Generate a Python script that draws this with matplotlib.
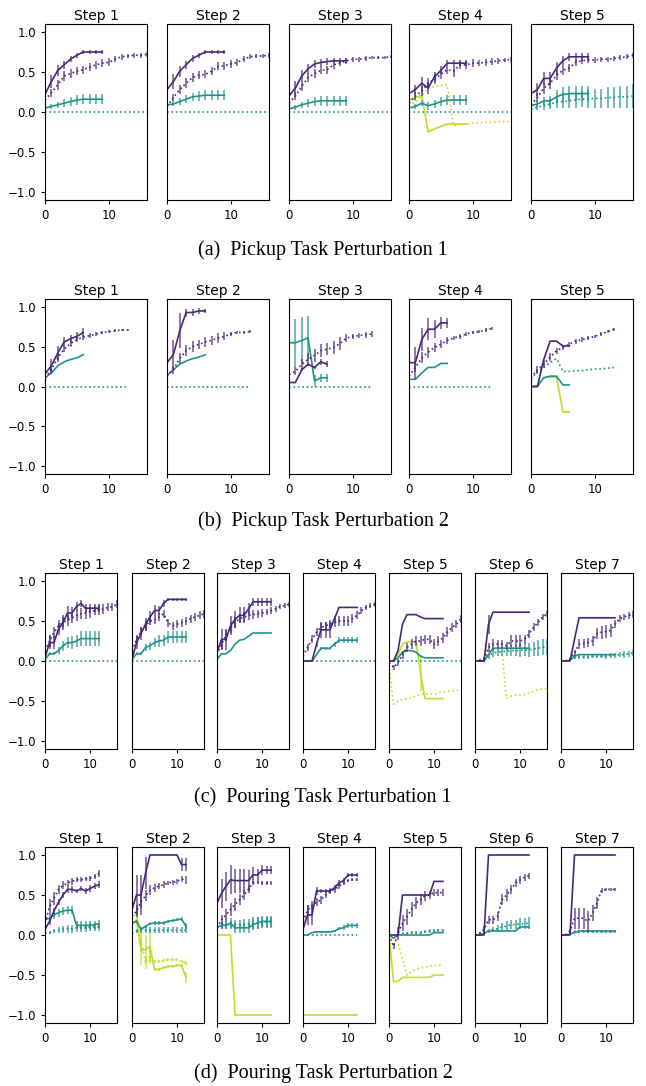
import matplotlib
matplotlib.use("Agg")
import matplotlib.pyplot as plt

# colours (viridis picks)
PURPLE = "#482878"
TEAL = "#21918c"
LIME = "#bddf26"

W, H = 646, 1086

# ---------------- shared flat series ----------------
ZEROS_14 = [0, 0, 0, 0, 0, 0, 0, 0, 0, 0, 0, 0, 0, 0]
ZEROS_17 = [0, 0, 0, 0, 0, 0, 0, 0, 0, 0, 0, 0, 0, 0, 0, 0, 0]
ZEROS_13 = [0, 0, 0, 0, 0, 0, 0, 0, 0, 0, 0, 0, 0]
MINUS_ONE_13 = [-1, -1, -1, -1, -1, -1, -1, -1, -1, -1, -1, -1, -1]

# ---------------- (a) Pickup Task Perturbation 1 ----------------
a1 = dict(
    p=[0.22, 0.38, 0.52, 0.59, 0.66, 0.71, 0.75, 0.75, 0.75, 0.75],
    p_err=[0.04, 0.08, 0.07, 0.05, 0.04, 0.03, 0.03, 0.03, 0.03, 0.03],
    pd=[0.15, 0.24, 0.34, 0.45, 0.48, 0.51, 0.53, 0.56, 0.59, 0.61, 0.62, 0.66, 0.69, 0.70, 0.71, 0.71, 0.72],
    pd_err=[0.03, 0.05, 0.06, 0.06, 0.06, 0.05, 0.05, 0.05, 0.05, 0.05, 0.05, 0.04, 0.04, 0.03, 0.03, 0.03, 0.03],
    t=[0.05, 0.07, 0.09, 0.11, 0.13, 0.15, 0.16, 0.16, 0.16, 0.16],
    t_err=[0.02, 0.03, 0.04, 0.05, 0.06, 0.06, 0.06, 0.06, 0.06, 0.06],
    td=ZEROS_17,
)
a2 = dict(
    p=[0.28, 0.38, 0.51, 0.59, 0.67, 0.71, 0.75, 0.75, 0.75, 0.75],
    p_err=[0.04, 0.09, 0.07, 0.05, 0.04, 0.03, 0.03, 0.03, 0.03, 0.03],
    pd=[0.07, 0.18, 0.28, 0.36, 0.43, 0.46, 0.47, 0.51, 0.57, 0.58, 0.60, 0.62, 0.66, 0.69, 0.70, 0.70, 0.71],
    pd_err=[0.03, 0.05, 0.06, 0.06, 0.06, 0.05, 0.05, 0.05, 0.05, 0.05, 0.05, 0.04, 0.04, 0.03, 0.03, 0.03, 0.03],
    t=[0.09, 0.10, 0.13, 0.16, 0.19, 0.20, 0.21, 0.21, 0.21, 0.21],
    t_err=[0.02, 0.02, 0.04, 0.05, 0.05, 0.06, 0.06, 0.06, 0.06, 0.06],
    td=ZEROS_17,
)
a3 = dict(
    p=[0.20, 0.30, 0.45, 0.54, 0.60, 0.62, 0.63, 0.64, 0.64, 0.64],
    p_err=[0.04, 0.09, 0.08, 0.06, 0.05, 0.04, 0.04, 0.03, 0.03, 0.03],
    pd=[0.11, 0.20, 0.32, 0.43, 0.48, 0.52, 0.53, 0.59, 0.61, 0.64, 0.66, 0.66, 0.67, 0.68, 0.68, 0.68, 0.69],
    pd_err=[0.03, 0.05, 0.06, 0.06, 0.06, 0.05, 0.05, 0.05, 0.04, 0.04, 0.03, 0.03, 0.03, 0.02, 0.02, 0.02, 0.02],
    t=[0.04, 0.06, 0.09, 0.11, 0.13, 0.14, 0.14, 0.14, 0.14, 0.14],
    t_err=[0.02, 0.03, 0.04, 0.05, 0.06, 0.06, 0.06, 0.06, 0.06, 0.06],
    td=ZEROS_17,
)
a4 = dict(
    p=[0.23, 0.28, 0.36, 0.30, 0.44, 0.52, 0.61, 0.61, 0.61, 0.61],
    p_err=[0.03, 0.06, 0.08, 0.07, 0.06, 0.05, 0.04, 0.04, 0.04, 0.04],
    pd=[0.11, 0.20, 0.26, 0.36, 0.41, 0.47, 0.53, 0.51, 0.59, 0.59, 0.61, 0.61, 0.62, 0.63, 0.64, 0.65, 0.66],
    pd_err=[0.03, 0.05, 0.06, 0.06, 0.06, 0.06, 0.05, 0.07, 0.05, 0.05, 0.05, 0.04, 0.04, 0.04, 0.04, 0.03, 0.03],
    t=[0.05, 0.07, 0.11, 0.08, 0.10, 0.13, 0.15, 0.15, 0.15, 0.15],
    t_err=[0.02, 0.03, 0.04, 0.05, 0.05, 0.06, 0.06, 0.06, 0.06, 0.06],
    td=ZEROS_17,
    y=[0.15, 0.18, 0.21, -0.25, -0.21, -0.18, -0.15, -0.15, -0.15, -0.15],
    y_err=[0.02, 0.04, 0.05, 0.0, 0.0, 0.0, 0.0, 0.0, 0.0, 0.0],
    yd=[0.07, 0.13, 0.20, 0.30, 0.32, 0.33, 0.34, -0.17, -0.15, -0.15, -0.14, -0.14, -0.13, -0.13, -0.12, -0.12, -0.12],
)
a5 = dict(
    p=[0.23, 0.28, 0.42, 0.42, 0.55, 0.64, 0.69, 0.69, 0.69, 0.69],
    p_err=[0.03, 0.08, 0.08, 0.08, 0.08, 0.06, 0.05, 0.05, 0.05, 0.05],
    pd=[0.09, 0.18, 0.30, 0.36, 0.46, 0.52, 0.55, 0.62, 0.64, 0.65, 0.65, 0.66, 0.66, 0.67, 0.68, 0.69, 0.71],
    pd_err=[0.03, 0.06, 0.07, 0.07, 0.06, 0.06, 0.05, 0.04, 0.04, 0.04, 0.04, 0.03, 0.03, 0.03, 0.03, 0.03, 0.03],
    t=[0.08, 0.10, 0.14, 0.14, 0.19, 0.22, 0.23, 0.23, 0.23, 0.23],
    t_err=[0.02, 0.04, 0.05, 0.06, 0.08, 0.09, 0.09, 0.09, 0.09, 0.09],
    td=[0.03, 0.06, 0.08, 0.10, 0.12, 0.13, 0.14, 0.15, 0.16, 0.16, 0.17, 0.17, 0.18, 0.18, 0.19, 0.19, 0.20],
    td_err=[0.02, 0.04, 0.05, 0.06, 0.07, 0.08, 0.09, 0.10, 0.10, 0.11, 0.12, 0.12, 0.13, 0.13, 0.14, 0.14, 0.15],
)

# ---------------- (b) Pickup Task Perturbation 2 ----------------
b1 = dict(
    p=[0.16, 0.26, 0.42, 0.56, 0.60, 0.63, 0.68],
    p_err=[0.03, 0.08, 0.09, 0.06, 0.05, 0.05, 0.05],
    pd=[0.11, 0.21, 0.36, 0.47, 0.54, 0.59, 0.62, 0.64, 0.66, 0.68, 0.69, 0.70, 0.71, 0.71],
    pd_err=[0.03, 0.05, 0.05, 0.04, 0.04, 0.03, 0.03, 0.03, 0.02, 0.02, 0.02, 0.02, 0.01, 0.01],
    t=[0.11, 0.17, 0.26, 0.31, 0.34, 0.36, 0.40],
    td=ZEROS_14,
)
b2 = dict(
    p=[0.30, 0.40, 0.70, 0.93, 0.93, 0.95, 0.95],
    p_err=[0.05, 0.18, 0.22, 0.05, 0.04, 0.04, 0.03],
    pd=[0.13, 0.21, 0.35, 0.45, 0.50, 0.53, 0.56, 0.58, 0.61, 0.63, 0.66, 0.68, 0.68, 0.69],
    pd_err=[0.03, 0.05, 0.07, 0.07, 0.07, 0.06, 0.06, 0.06, 0.06, 0.05, 0.02, 0.02, 0.02, 0.02],
    t=[0.14, 0.21, 0.28, 0.32, 0.35, 0.37, 0.40],
    td=ZEROS_14,
)
b3 = dict(
    p=[0.05, 0.05, 0.21, 0.28, 0.24, 0.31, 0.28],
    p_err=[0.01, 0.01, 0.02, 0.02, 0.02, 0.04, 0.04],
    pd=[0.15, 0.19, 0.28, 0.34, 0.39, 0.45, 0.47, 0.49, 0.54, 0.61, 0.63, 0.64, 0.65, 0.66],
    pd_err=[0.03, 0.05, 0.07, 0.08, 0.08, 0.08, 0.08, 0.08, 0.08, 0.05, 0.03, 0.03, 0.04, 0.04],
    t=[0.55, 0.55, 0.58, 0.61, 0.07, 0.11, 0.11],
    t_err=[0.02, 0.30, 0.30, 0.28, 0.08, 0.05, 0.05],
    td=ZEROS_14,
)
b4 = dict(
    p=[0.30, 0.30, 0.59, 0.72, 0.72, 0.80, 0.80],
    p_err=[0.03, 0.20, 0.14, 0.14, 0.11, 0.08, 0.06],
    pd=[0.13, 0.24, 0.36, 0.43, 0.49, 0.53, 0.58, 0.61, 0.63, 0.66, 0.68, 0.69, 0.71, 0.73],
    pd_err=[0.03, 0.06, 0.07, 0.07, 0.06, 0.05, 0.04, 0.03, 0.03, 0.02, 0.02, 0.02, 0.02, 0.02],
    t=[0.09, 0.09, 0.17, 0.24, 0.24, 0.29, 0.29],
    td=ZEROS_14,
)
b5 = dict(
    p=[0.0, 0.0, 0.34, 0.57, 0.57, 0.51, 0.51],
    pd=[0.11, 0.21, 0.28, 0.37, 0.45, 0.49, 0.53, 0.57, 0.59, 0.61, 0.63, 0.66, 0.69, 0.72],
    pd_err=[0.03, 0.05, 0.05, 0.05, 0.04, 0.03, 0.03, 0.03, 0.03, 0.03, 0.02, 0.02, 0.02, 0.02],
    t=[0.0, 0.0, 0.11, 0.13, 0.13, 0.02, 0.02],
    td=[0.09, 0.19, 0.24, 0.30, 0.35, 0.19, 0.19, 0.20, 0.20, 0.21, 0.22, 0.22, 0.23, 0.24],
    y=[0.0, 0.0, 0.11, 0.12, 0.12, -0.32, -0.32],
)

# ---------------- (c) Pouring Task Perturbation 1 ----------------
c1 = dict(
    p=[0.04, 0.23, 0.23, 0.40, 0.48, 0.60, 0.60, 0.68, 0.72, 0.66, 0.66, 0.66, 0.66],
    p_err=[0.02, 0.08, 0.08, 0.08, 0.09, 0.09, 0.08, 0.06, 0.04, 0.05, 0.05, 0.05, 0.05],
    pd=[0.13, 0.25, 0.36, 0.44, 0.48, 0.51, 0.54, 0.57, 0.59, 0.60, 0.61, 0.63, 0.64, 0.65, 0.67, 0.68, 0.71],
    pd_err=[0.03, 0.07, 0.07, 0.07, 0.07, 0.07, 0.07, 0.07, 0.07, 0.07, 0.07, 0.06, 0.06, 0.06, 0.05, 0.05, 0.05],
    t=[0.02, 0.09, 0.09, 0.13, 0.19, 0.23, 0.23, 0.25, 0.28, 0.28, 0.28, 0.28, 0.28],
    t_err=[0.01, 0.02, 0.02, 0.04, 0.06, 0.07, 0.08, 0.08, 0.09, 0.09, 0.09, 0.09, 0.09],
    td=ZEROS_17,
)
c2 = dict(
    p=[0.02, 0.23, 0.34, 0.46, 0.55, 0.63, 0.63, 0.72, 0.77, 0.77, 0.77, 0.77, 0.77],
    p_err=[0.02, 0.08, 0.08, 0.08, 0.08, 0.07, 0.06, 0.04, 0.02, 0.02, 0.02, 0.02, 0.02],
    pd=[0.13, 0.27, 0.37, 0.44, 0.50, 0.51, 0.55, 0.59, 0.48, 0.44, 0.46, 0.48, 0.50, 0.53, 0.55, 0.57, 0.59],
    pd_err=[0.03, 0.06, 0.06, 0.06, 0.05, 0.05, 0.05, 0.05, 0.05, 0.05, 0.05, 0.05, 0.05, 0.05, 0.05, 0.05, 0.05],
    t=[0.02, 0.09, 0.09, 0.17, 0.19, 0.23, 0.25, 0.26, 0.30, 0.30, 0.30, 0.30, 0.30],
    t_err=[0.01, 0.02, 0.02, 0.04, 0.05, 0.06, 0.07, 0.07, 0.08, 0.08, 0.08, 0.08, 0.08],
    td=ZEROS_17,
)
c3 = dict(
    p=[0.11, 0.27, 0.27, 0.44, 0.52, 0.57, 0.57, 0.65, 0.74, 0.74, 0.74, 0.74, 0.74],
    p_err=[0.03, 0.13, 0.13, 0.12, 0.11, 0.10, 0.10, 0.07, 0.05, 0.05, 0.05, 0.05, 0.05],
    pd=[0.08, 0.21, 0.32, 0.42, 0.48, 0.53, 0.55, 0.57, 0.58, 0.59, 0.60, 0.61, 0.63, 0.65, 0.68, 0.69, 0.71],
    pd_err=[0.03, 0.06, 0.07, 0.07, 0.07, 0.06, 0.06, 0.06, 0.06, 0.05, 0.05, 0.04, 0.04, 0.04, 0.03, 0.03, 0.03],
    t=[0.02, 0.09, 0.09, 0.13, 0.21, 0.26, 0.27, 0.31, 0.35, 0.35, 0.35, 0.35, 0.35],
)
c4 = dict(
    p=[0.0, 0.0, 0.0, 0.21, 0.39, 0.39, 0.39, 0.53, 0.67, 0.67, 0.67, 0.67, 0.67],
    p_err=[0.0, 0.0, 0.0, 0.03, 0.10, 0.10, 0.10, 0.03, 0.01, 0.01, 0.01, 0.01, 0.01],
    pd=[0.06, 0.17, 0.27, 0.36, 0.42, 0.44, 0.46, 0.48, 0.50, 0.50, 0.50, 0.53, 0.57, 0.63, 0.67, 0.69, 0.71],
    pd_err=[0.02, 0.04, 0.05, 0.05, 0.05, 0.05, 0.05, 0.05, 0.06, 0.06, 0.06, 0.06, 0.05, 0.04, 0.03, 0.03, 0.03],
    t=[0.0, 0.0, 0.0, 0.08, 0.16, 0.16, 0.16, 0.21, 0.26, 0.26, 0.26, 0.26, 0.26],
    t_err=[0.0, 0.0, 0.0, 0.01, 0.02, 0.02, 0.02, 0.03, 0.04, 0.04, 0.04, 0.04, 0.04],
    td=ZEROS_17,
)
c5 = dict(
    p=[0.0, 0.0, 0.13, 0.46, 0.58, 0.58, 0.58, 0.55, 0.53, 0.53, 0.53, 0.53, 0.53],
    pd=[-0.02, -0.08, -0.02, 0.08, 0.17, 0.21, 0.25, 0.25, 0.27, 0.27, 0.21, 0.25, 0.29, 0.36, 0.42, 0.46, 0.53],
    pd_err=[0.02, 0.03, 0.04, 0.05, 0.06, 0.06, 0.06, 0.06, 0.06, 0.06, 0.06, 0.06, 0.06, 0.06, 0.06, 0.05, 0.05],
    t=[0.0, 0.0, 0.04, 0.11, 0.13, 0.13, 0.11, 0.06, 0.04, 0.04, 0.04, 0.04, 0.04],
    td=ZEROS_17,
    y=[0.0, 0.0, 0.08, 0.21, 0.24, 0.24, 0.24, -0.15, -0.47, -0.47, -0.47, -0.47, -0.47],
    y_err=[0.0, 0.0, 0.0, 0.0, 0.0, 0.0, 0.0, 0.22, 0.0, 0.0, 0.0, 0.0, 0.0],
    yd=[-0.04, -0.54, -0.50, -0.48, -0.47, -0.46, -0.44, -0.42, -0.41, -0.41, -0.42, -0.40, -0.39, -0.38, -0.37, -0.37, -0.36],
)
c6 = dict(
    p=[0.0, 0.0, 0.0, 0.46, 0.61, 0.61, 0.61, 0.61, 0.61, 0.61, 0.61, 0.61, 0.61],
    p_err=[0.0, 0.0, 0.0, 0.12, 0.0, 0.0, 0.0, 0.0, 0.0, 0.0, 0.0, 0.0, 0.0],
    pd=[0.0, 0.01, 0.02, 0.17, 0.21, 0.21, 0.21, 0.19, 0.25, 0.25, 0.25, 0.27, 0.34, 0.42, 0.48, 0.55, 0.59],
    pd_err=[0.01, 0.02, 0.03, 0.06, 0.06, 0.05, 0.05, 0.05, 0.07, 0.07, 0.07, 0.06, 0.05, 0.05, 0.04, 0.04, 0.04],
    t=[0.0, 0.0, 0.0, 0.08, 0.16, 0.16, 0.16, 0.16, 0.16, 0.16, 0.16, 0.16, 0.16],
    td=[0.0, 0.0, 0.02, 0.06, 0.10, 0.11, 0.12, 0.12, 0.13, 0.13, 0.13, 0.14, 0.14, 0.15, 0.16, 0.17, 0.18],
    td_err=[0.0, 0.0, 0.01, 0.03, 0.05, 0.05, 0.06, 0.06, 0.07, 0.07, 0.08, 0.08, 0.09, 0.09, 0.10, 0.10, 0.10],
    yd=[0.0, 0.0, 0.02, 0.10, 0.13, 0.13, 0.13, -0.47, -0.44, -0.43, -0.43, -0.42, -0.40, -0.38, -0.36, -0.35, -0.35],
)
c7 = dict(
    p=[0.0, 0.0, 0.0, 0.27, 0.54, 0.54, 0.54, 0.54, 0.54, 0.54, 0.54, 0.54, 0.54],
    pd=[0.0, 0.0, 0.02, 0.10, 0.21, 0.22, 0.23, 0.25, 0.34, 0.36, 0.37, 0.38, 0.46, 0.53, 0.55, 0.57, 0.58],
    pd_err=[0.0, 0.01, 0.02, 0.04, 0.06, 0.06, 0.06, 0.06, 0.07, 0.08, 0.08, 0.08, 0.05, 0.04, 0.04, 0.04, 0.04],
    t=[0.0, 0.0, 0.01, 0.06, 0.08, 0.08, 0.08, 0.08, 0.08, 0.08, 0.08, 0.08, 0.08],
    td=[0.0, 0.0, 0.02, 0.04, 0.05, 0.05, 0.05, 0.06, 0.06, 0.06, 0.06, 0.07, 0.07, 0.08, 0.08, 0.09, 0.10],
    td_err=[0.0, 0.0, 0.01, 0.02, 0.02, 0.02, 0.02, 0.02, 0.02, 0.02, 0.03, 0.03, 0.03, 0.03, 0.04, 0.04, 0.04],
)

# ---------------- (d) Pouring Task Perturbation 2 ----------------
d1 = dict(
    p=[0.07, 0.17, 0.30, 0.41, 0.50, 0.57, 0.57, 0.55, 0.58, 0.55, 0.58, 0.61, 0.63],
    p_err=[0.02, 0.04, 0.04, 0.04, 0.04, 0.04, 0.04, 0.03, 0.03, 0.04, 0.04, 0.04, 0.04],
    pd=[0.15, 0.35, 0.46, 0.57, 0.62, 0.65, 0.67, 0.69, 0.69, 0.70, 0.71, 0.73, 0.77],
    pd_err=[0.03, 0.10, 0.08, 0.06, 0.05, 0.04, 0.04, 0.03, 0.03, 0.03, 0.03, 0.03, 0.04],
    t=[0.19, 0.21, 0.25, 0.28, 0.30, 0.31, 0.31, 0.12, 0.12, 0.12, 0.12, 0.13, 0.14],
    t_err=[0.02, 0.04, 0.05, 0.05, 0.05, 0.05, 0.05, 0.05, 0.05, 0.05, 0.05, 0.05, 0.05],
    td=[0.02, 0.03, 0.05, 0.06, 0.07, 0.08, 0.08, 0.09, 0.09, 0.09, 0.10, 0.10, 0.10],
    td_err=[0.01, 0.02, 0.03, 0.04, 0.04, 0.05, 0.05, 0.05, 0.05, 0.05, 0.05, 0.05, 0.05],
)
d2 = dict(
    p=[0.32, 0.50, 0.50, 0.77, 1.0, 1.0, 1.0, 1.0, 1.0, 1.0, 1.0, 0.88, 0.88],
    p_err=[0.05, 0.25, 0.25, 0.20, 0.0, 0.0, 0.0, 0.0, 0.0, 0.0, 0.0, 0.08, 0.08],
    pd=[0.23, 0.30, 0.42, 0.49, 0.56, 0.59, 0.61, 0.63, 0.65, 0.66, 0.67, 0.70, 0.69],
    pd_err=[0.05, 0.07, 0.08, 0.07, 0.06, 0.05, 0.04, 0.04, 0.03, 0.03, 0.03, 0.04, 0.05],
    t=[0.15, 0.17, 0.07, 0.11, 0.14, 0.15, 0.15, 0.15, 0.17, 0.18, 0.19, 0.20, 0.11],
    t_err=[0.02, 0.02, 0.02, 0.02, 0.02, 0.02, 0.02, 0.02, 0.02, 0.02, 0.02, 0.02, 0.04],
    td=[0.02, 0.05, 0.06, 0.06, 0.06, 0.06, 0.06, 0.06, 0.06, 0.06, 0.06, 0.06, 0.06],
    td_err=[0.01, 0.03, 0.04, 0.04, 0.04, 0.04, 0.04, 0.04, 0.04, 0.04, 0.04, 0.04, 0.04],
    y=[0.13, 0.19, -0.20, -0.18, -0.14, -0.43, -0.43, -0.41, -0.39, -0.39, -0.38, -0.38, -0.53],
    y_err=[0.02, 0.05, 0.18, 0.18, 0.20, 0.02, 0.02, 0.02, 0.02, 0.02, 0.02, 0.02, 0.07],
    yd=[0.19, 0.28, -0.06, -0.35, -0.25, -0.33, -0.33, -0.32, -0.31, -0.31, -0.31, -0.33, -0.35],
    yd_err=[0.02, 0.05, 0.15, 0.08, 0.10, 0.02, 0.02, 0.02, 0.02, 0.02, 0.02, 0.02, 0.03],
)
d3 = dict(
    p=[0.40, 0.52, 0.61, 0.69, 0.68, 0.68, 0.68, 0.68, 0.75, 0.75, 0.81, 0.81, 0.81],
    p_err=[0.08, 0.18, 0.18, 0.18, 0.15, 0.15, 0.15, 0.13, 0.10, 0.08, 0.06, 0.05, 0.05],
    pd=[0.09, 0.19, 0.25, 0.32, 0.38, 0.44, 0.50, 0.57, 0.65, 0.66, 0.65, 0.65, 0.65],
    pd_err=[0.03, 0.06, 0.07, 0.08, 0.08, 0.07, 0.06, 0.05, 0.03, 0.02, 0.02, 0.02, 0.02],
    t=[0.10, 0.12, 0.12, 0.15, 0.09, 0.09, 0.09, 0.09, 0.13, 0.15, 0.17, 0.17, 0.17],
    t_err=[0.02, 0.04, 0.05, 0.06, 0.06, 0.06, 0.06, 0.06, 0.07, 0.07, 0.07, 0.07, 0.07],
    td=[0.10, 0.11, 0.12, 0.12, 0.13, 0.13, 0.14, 0.14, 0.15, 0.15, 0.16, 0.16, 0.16],
    td_err=[0.02, 0.04, 0.05, 0.05, 0.06, 0.06, 0.06, 0.06, 0.07, 0.07, 0.07, 0.07, 0.07],
    y=[0.0, 0.0, 0.0, 0.0, -1.0, -1.0, -1.0, -1.0, -1.0, -1.0, -1.0, -1.0, -1.0],
)
d4 = dict(
    p=[0.07, 0.25, 0.25, 0.55, 0.55, 0.55, 0.55, 0.59, 0.65, 0.68, 0.75, 0.75, 0.75],
    p_err=[0.05, 0.12, 0.12, 0.05, 0.03, 0.03, 0.03, 0.03, 0.04, 0.03, 0.02, 0.02, 0.02],
    pd=[0.17, 0.31, 0.37, 0.41, 0.44, 0.50, 0.55, 0.57, 0.61, 0.65, 0.68, 0.69, 0.69],
    pd_err=[0.04, 0.06, 0.06, 0.05, 0.05, 0.04, 0.04, 0.04, 0.04, 0.03, 0.02, 0.02, 0.02],
    t=[0.0, 0.0, 0.03, 0.04, 0.04, 0.04, 0.04, 0.05, 0.08, 0.09, 0.12, 0.12, 0.12],
    t_err=[0.01, 0.01, 0.01, 0.01, 0.01, 0.01, 0.01, 0.01, 0.02, 0.03, 0.03, 0.03, 0.03],
    td=ZEROS_13,
    y=MINUS_ONE_13,
)
d5 = dict(
    p=[0.0, 0.0, 0.0, 0.50, 0.50, 0.50, 0.50, 0.50, 0.50, 0.50, 0.67, 0.67, 0.67],
    pd=[0.0, -0.14, 0.02, 0.15, 0.23, 0.32, 0.40, 0.44, 0.49, 0.50, 0.53, 0.53, 0.53],
    pd_err=[0.01, 0.04, 0.08, 0.10, 0.10, 0.09, 0.08, 0.07, 0.06, 0.05, 0.04, 0.04, 0.04],
    t=[0.0, -0.04, 0.0, 0.0, 0.0, 0.0, 0.0, 0.0, 0.0, 0.0, 0.03, 0.03, 0.03],
    td=[0.0, 0.0, 0.01, 0.02, 0.02, 0.03, 0.03, 0.03, 0.04, 0.05, 0.05, 0.06, 0.06],
    td_err=[0.0, 0.01, 0.01, 0.01, 0.02, 0.02, 0.02, 0.02, 0.02, 0.02, 0.02, 0.02, 0.02],
    y=[0.0, -0.58, -0.58, -0.53, -0.53, -0.53, -0.53, -0.53, -0.53, -0.53, -0.50, -0.50, -0.50],
    yd=[0.0, -0.04, -0.10, -0.30, -0.50, -0.46, -0.43, -0.41, -0.40, -0.39, -0.38, -0.38, -0.37],
)
d6 = dict(
    p=[0.0, 0.0, 0.0, 1.0, 1.0, 1.0, 1.0, 1.0, 1.0, 1.0, 1.0, 1.0, 1.0],
    pd=[0.0, 0.02, 0.07, 0.19, 0.19, 0.23, 0.44, 0.50, 0.57, 0.65, 0.69, 0.72, 0.74],
    pd_err=[0.01, 0.02, 0.04, 0.05, 0.05, 0.06, 0.07, 0.07, 0.06, 0.05, 0.05, 0.04, 0.04],
    t=[0.0, 0.0, 0.02, 0.05, 0.05, 0.05, 0.05, 0.05, 0.05, 0.05, 0.10, 0.10, 0.10],
    td=[0.0, 0.0, 0.02, 0.05, 0.07, 0.08, 0.10, 0.11, 0.13, 0.13, 0.14, 0.14, 0.15],
    td_err=[0.0, 0.0, 0.01, 0.02, 0.03, 0.04, 0.05, 0.06, 0.06, 0.06, 0.07, 0.07, 0.07],
)
d7 = dict(
    p=[0.0, 0.0, 0.0, 1.0, 1.0, 1.0, 1.0, 1.0, 1.0, 1.0, 1.0, 1.0, 1.0],
    pd=[0.0, 0.0, 0.05, 0.21, 0.21, 0.21, 0.17, 0.27, 0.40, 0.56, 0.57, 0.57, 0.57],
    pd_err=[0.0, 0.01, 0.02, 0.13, 0.13, 0.13, 0.13, 0.10, 0.08, 0.03, 0.02, 0.02, 0.02],
    t=[0.0, 0.0, 0.01, 0.03, 0.05, 0.05, 0.05, 0.05, 0.05, 0.05, 0.05, 0.05, 0.05],
    td=[0.0, 0.0, 0.02, 0.04, 0.04, 0.04, 0.04, 0.04, 0.04, 0.04, 0.04, 0.04, 0.04],
    td_err=[0.0, 0.0, 0.01, 0.02, 0.02, 0.02, 0.02, 0.02, 0.02, 0.02, 0.02, 0.02, 0.02],
)

captions = [
    "(a)  Pickup Task Perturbation 1",
    "(b)  Pickup Task Perturbation 2",
    "(c)  Pouring Task Perturbation 1",
    "(d)  Pouring Task Perturbation 2",
]
rows = [[a1, a2, a3, a4, a5], [b1, b2, b3, b4, b5],
        [c1, c2, c3, c4, c5, c6, c7], [d1, d2, d3, d4, d5, d6, d7]]

# pixel layout of the panels: (lefts, width, top, bottom, caption y)
layout = [
    ([45, 167, 289, 409, 531], 102, 24, 200, 250),
    ([45, 167, 289, 409, 531], 102, 299, 474, 521),
    ([45, 132, 217, 303, 389, 475, 561], 72, 573, 749, 797),
    ([45, 132, 217, 303, 389, 475, 561], 72, 847, 1023, 1073),
]

# series key -> colour, line style
series = [
    ("y", LIME, "-"), ("yd", LIME, ":"),
    ("t", TEAL, "-"), ("td", TEAL, ":"),
    ("p", PURPLE, "-"), ("pd", PURPLE, ":"),
]


def draw(ax, vals, errs, color, ls):
    x = list(range(len(vals)))
    if errs is not None:
        xs = [i for i, e in zip(x, errs) if e > 0]
        lo = [v - e for v, e in zip(vals, errs) if e > 0]
        hi = [v + e for v, e in zip(vals, errs) if e > 0]
        ax.vlines(xs, lo, hi, colors=color, lw=1.1, alpha=0.8)
    ax.plot(x, vals, color=color, ls=ls, lw=1.2)


fig = plt.figure(figsize=(W / 100, H / 100), dpi=100)

for r, (panels, (lefts, pw, top, bottom, cap_y)) in enumerate(zip(rows, layout)):
    for i, (panel, left) in enumerate(zip(panels, lefts)):
        ax = fig.add_axes([left / W, 1 - bottom / H, pw / W, (bottom - top) / H])
        for key, color, ls in series:
            if key in panel:
                draw(ax, panel[key], panel.get(key + "_err"), color, ls)
        ax.set_xlim(0, 16)
        ax.set_ylim(-1.1, 1.1)
        ax.set_xticks([0, 10])
        ax.set_yticks([-1.0, -0.5, 0.0, 0.5, 1.0])
        ax.tick_params(labelsize=8.5, length=3, width=0.8)
        if i > 0:
            ax.tick_params(left=False, labelleft=False)
        for sp in ax.spines.values():
            sp.set_linewidth(0.8)
        ax.set_title(f"Step {i + 1}", fontsize=10, pad=3)
    fig.text(323 / W, 1 - cap_y / H, captions[r], ha="center", va="center",
             fontsize=14.5, family="Liberation Serif")

fig.savefig("out.png", dpi=100)
